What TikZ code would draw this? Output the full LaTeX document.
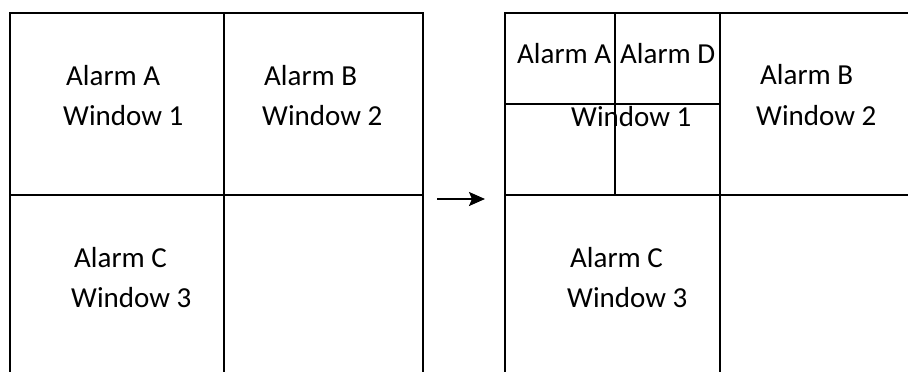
\documentclass[tikz,border=0pt]{standalone}
\usepackage{fontspec}
\setmainfont{Carlito}
\usetikzlibrary{arrows.meta}
\begin{document}
\begin{tikzpicture}[x=1pt,y=-1pt,
  gridline/.style={line width=1.8pt,black},
  lbl/.style={anchor=base west,inner sep=0pt,font=\fontsize{29}{33}\selectfont}]
\useasboundingbox (0,0) rectangle (908,372);
% left grid
\draw[gridline] (10,378) -- (10,13) -- (423,13) -- (423,378);
\draw[gridline] (224,13) -- (224,378);
\draw[gridline] (10,195) -- (423,195);
% right grid
\draw[gridline] (505,378) -- (505,13) -- (915,13);
\draw[gridline] (720,13) -- (720,378);
\draw[gridline] (505,195) -- (915,195);
\draw[gridline] (615,13) -- (615,195);
\draw[gridline] (505,104) -- (720,104);
% arrow
\coordinate (arrS) at (437,199);
\coordinate (arrE) at (485,199);
\draw[line width=1.8pt,-{Stealth[length=16pt,width=14pt,inset=3pt]}] (arrS) -- (arrE);
% left labels
\node[lbl] (la) at (66,85) {Alarm A};
\node[lbl] (lw1) at (63,125) {Window 1};
\node[lbl] (lb) at (264,85) {Alarm B};
\node[lbl] (lw2) at (262,125) {Window 2};
\node[lbl] (lc) at (74,267) {Alarm C};
\node[lbl] (lw3) at (71,307) {Window 3};
% right labels
\node[lbl] (ra) at (517,63) {Alarm A};
\node[lbl] (rd) at (620,63) {Alarm D};
\node[lbl] (rw1) at (571,126) {Window 1};
\node[lbl] (rb) at (760,84) {Alarm B};
\node[lbl] (rw2) at (756,125) {Window 2};
\node[lbl] (rc) at (570,267) {Alarm C};
\node[lbl] (rw3) at (567,307) {Window 3};
\end{tikzpicture}
\end{document}
